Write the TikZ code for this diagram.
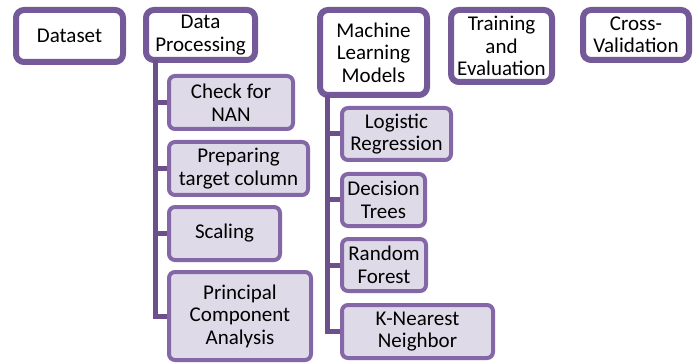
\documentclass[tikz,border=0pt]{standalone}
\usepackage{fontspec}
\setmainfont{Carlito}
\usetikzlibrary{shadows}
\definecolor{topline}{HTML}{745A98}
\definecolor{subline}{HTML}{8467A6}
\definecolor{subfill}{HTML}{DFDAE8}
\definecolor{trunk}{HTML}{6C508C}
\begin{document}
\begin{tikzpicture}
[x=1pt,y=-1pt,
topbox/.style={draw=topline,line width=6pt,fill=white,rounded corners=8pt,align=center,inner sep=0pt,
  drop shadow={opacity=0.2,shadow xshift=1pt,shadow yshift=-2pt}},
subbox/.style={draw=subline,line width=4pt,fill=subfill,rounded corners=6pt,align=center,inner sep=0pt,
  drop shadow={opacity=0.15,shadow xshift=1pt,shadow yshift=-2pt}},
branch/.style={draw=trunk,line width=5pt},
font=\fontsize{21}{22.5}\selectfont]

\useasboundingbox (0,0) rectangle (700,363);

%Top level steps
\node (data) at (69.5,36)[topbox,minimum width=107pt,minimum height=52pt] {Dataset};
\node (proc) at (200.5,35)[topbox,minimum width=109pt,minimum height=50pt] {Data\\Processing};
\node (mlm) at (373.5,52.5)[topbox,minimum width=107pt,minimum height=85pt] {Machine\\Learning\\Models};
\node (train) at (501.5,46)[topbox,minimum width=101pt,minimum height=72pt] {Training\\and\\Evaluation};
\node (cv) at (636,35)[topbox,minimum width=106pt,minimum height=50pt] {Cross-\\Validation};

%Processing steps
\node (nan) at (231,102.5)[subbox,minimum width=124pt,minimum height=53pt] {Check for\\NAN};
\node (prep) at (238.5,168.5)[subbox,minimum width=139pt,minimum height=53pt] {Preparing\\target column};
\node (scal) at (224.5,233.5)[subbox,minimum width=111pt,minimum height=53pt] {Scaling};
\node (pca) at (240,316)[subbox,minimum width=142pt,minimum height=88pt] {Principal\\Component\\Analysis};

%Models
\node (lr) at (396.5,134)[subbox,minimum width=109pt,minimum height=52pt] {Logistic\\Regression};
\node (dt) at (383.5,200)[subbox,minimum width=83pt,minimum height=52pt] {Decision\\Trees};
\node (rf) at (384,265)[subbox,minimum width=84pt,minimum height=52pt] {Random\\Forest};
\node (knn) at (417.5,331.5)[subbox,minimum width=151pt,minimum height=53pt] {K-Nearest\\Neighbor};

%Drawing the branches
\foreach \c in {nan,prep,scal,pca}
  \draw[branch] ([xshift=12pt,yshift=3pt]proc.south west) |- (\c.west);
\foreach \c in {lr,dt,rf,knn}
  \draw[branch] ([xshift=10pt,yshift=3pt]mlm.south west) |- (\c.west);

\end{tikzpicture}
\end{document}
